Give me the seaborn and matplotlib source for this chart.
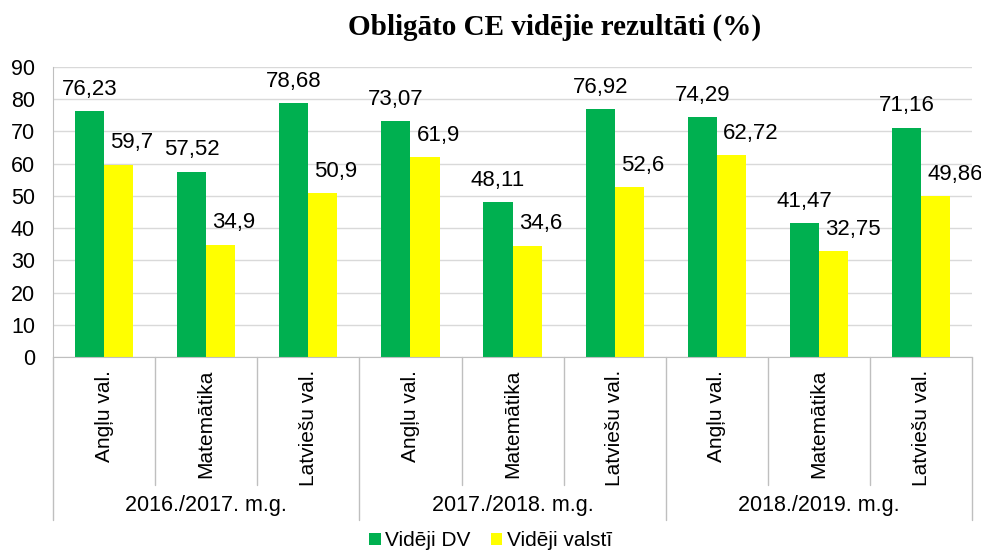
import matplotlib
matplotlib.use("Agg")
import matplotlib.pyplot as plt
import matplotlib.transforms as mtransforms
import pandas as pd
import seaborn as sns

# data
years = ["2016./2017. m.g.", "2017./2018. m.g.", "2018./2019. m.g."]
subjects = ["Angļu val.", "Matemātika", "Latviešu val."]
series = ["Vidēji DV", "Vidēji valstī"]
dv = [76.23, 57.52, 78.68, 73.07, 48.11, 76.92, 74.29, 41.47, 71.16]
valsti = [59.7, 34.9, 50.9, 61.9, 34.6, 52.6, 62.72, 32.75, 49.86]
colors = ["#00B050", "#FFFF00"]

# build long table
cats = [f"{y}|{s}" for y in years for s in subjects]
df = pd.DataFrame({
    "cat": cats * 2,
    "value": dv + valsti,
    "series": [series[0]] * len(cats) + [series[1]] * len(cats),
})

sns.set_style("white")
plt.rcParams["font.family"] = ["Liberation Sans", "DejaVu Sans"]
plt.rcParams["text.color"] = "black"
plt.rcParams["xtick.color"] = "black"
plt.rcParams["ytick.color"] = "black"

fig = plt.figure(figsize=(9.81, 5.52), dpi=100)
ax = fig.add_axes([0.054, 0.353, 0.937, 0.526])

sns.barplot(data=df, x="cat", y="value", hue="series", order=cats,
            hue_order=series, palette=colors, width=0.57, saturation=1,
            ax=ax, legend=True, linewidth=0)

ax.set_ylim(0, 90)
ax.set_xlim(-0.5, len(cats) - 0.5)
ax.set_yticks(range(0, 91, 10))
ax.yaxis.grid(True, color="#D9D9D9", linewidth=1)
ax.set_axisbelow(True)
ax.set_xlabel("")
ax.set_ylabel("")
for side in ["top", "right"]:
    ax.spines[side].set_visible(False)
for side in ["left", "bottom"]:
    ax.spines[side].set_color("#BFBFBF")
ax.tick_params(axis="y", labelsize=15.5, length=5, color="#BFBFBF", pad=8)
ax.set_xticks(range(len(cats)))
ax.set_xticklabels([c.split("|")[1] for c in cats], rotation=90, fontsize=15)
ax.tick_params(axis="x", length=0, pad=9)

# value labels: green centred, yellow starts just left of bar centre
for i, cont in enumerate(ax.containers):
    labels = [str(v).replace(".", ",") for v in (dv if i == 0 else valsti)]
    for bar, lab in zip(cont, labels):
        x = bar.get_x() + bar.get_width() / 2
        ax.annotate(lab, (x, bar.get_height()),
                    xytext=(0 if i == 0 else -6, 8),
                    textcoords="offset points",
                    ha="center" if i == 0 else "left", va="bottom",
                    fontsize=16)

# grouped category axis
trans = mtransforms.blended_transform_factory(ax.transData, ax.transAxes)
for k in range(len(cats) + 1):
    xb = k - 0.5
    low = -0.562 if k % 3 == 0 else -0.441
    ax.plot([xb, xb], [0, low], color="#BFBFBF", lw=1, transform=trans,
            clip_on=False)
for g, y in enumerate(years):
    ax.text(g * 3 + 1, -0.51, y, transform=trans, ha="center", va="center",
            fontsize=15.5)

# legend
handles, labels = ax.get_legend_handles_labels()
ax.get_legend().remove()
fig.legend(handles, labels, loc="center", bbox_to_anchor=(0.5, 1 - 541 / 552),
           ncol=2, frameon=False, fontsize=15, handlelength=0.55,
           handleheight=0.55, handletextpad=0.2, columnspacing=1.0)

fig.text(0.565, 0.95, "Obligāto CE vidējie rezultāti (%)", ha="center",
         va="center", fontsize=21, fontweight="bold",
         family=["Liberation Serif", "DejaVu Serif"])

fig.savefig("out.png", dpi=100)
